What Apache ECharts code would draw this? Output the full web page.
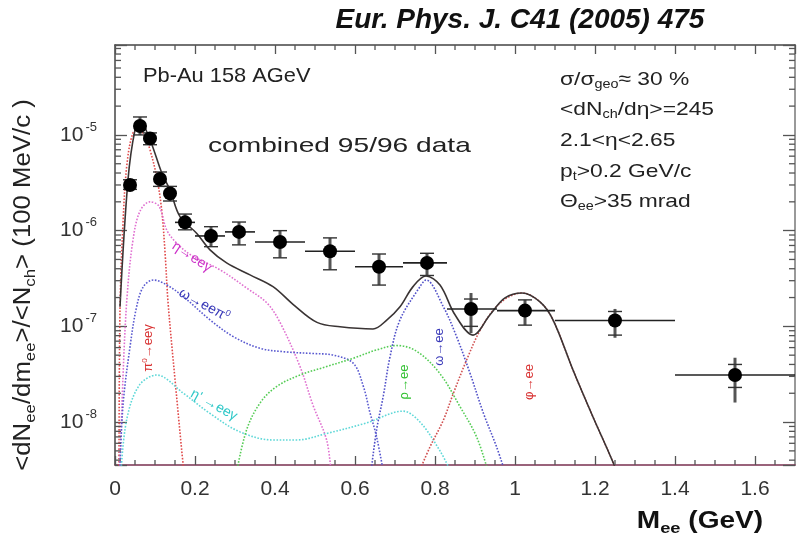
<!DOCTYPE html>
<html>
<head>
<meta charset="utf-8">
<script src="https://cdn.jsdelivr.net/npm/echarts@6/dist/echarts.min.js"></script>
<style>
html,body{margin:0;padding:0;background:#fff;}
#chart{width:807px;height:538px;}
</style>
</head>
<body>
<div id="chart"></div>
<script>
// ---------- data ----------
const xTickLabels = ['0','0.2','0.4','0.6','0.8','1','1.2','1.4','1.6'];
const yTickLabels = ['10^-8','10^-7','10^-6','10^-5'];

// measured points: mass (GeV), yield
const mass    = [0.0375,0.0625,0.0875,0.1125,0.1375,0.175,0.24,0.31,0.4125,0.5375,0.66,0.78,0.89,1.025,1.25,1.55];
const yieldV  = [3.0e-6,1.24e-5,9.2e-6,3.46e-6,2.45e-6,1.22e-6,8.8e-7,9.7e-7,7.6e-7,6.1e-7,4.2e-7,4.6e-7,1.52e-7,1.46e-7,1.15e-7,3.1e-8];
const binLo   = [0.025,0.05,0.075,0.1,0.125,0.15,0.2,0.275,0.35,0.475,0.6,0.72,0.83,0.955,1.1,1.4];
const binHi   = [0.05,0.075,0.1,0.125,0.15,0.2,0.275,0.35,0.475,0.6,0.72,0.83,0.955,1.1,1.4,1.7];
const statLo  = [2.7e-6,1.0e-5,7.9e-6,2.9e-6,2.04e-6,1.02e-6,6.8e-7,7.1e-7,5.2e-7,3.9e-7,2.7e-7,3.4e-7,8.5e-8,1.03e-7,7.6e-8,1.6e-8];
const statHi  = [3.4e-6,1.54e-5,1.05e-5,4.1e-6,2.9e-6,1.49e-6,1.10e-6,1.23e-6,1.0e-6,8.4e-7,5.7e-7,5.8e-7,2.23e-7,1.89e-7,1.52e-7,4.7e-8];
const sysLo   = [2.7e-6,1.0e-5,7.9e-6,2.9e-6,2.04e-6,1.02e-6,6.8e-7,7.1e-7,5.2e-7,3.9e-7,2.7e-7,3.4e-7,1.0e-7,1.03e-7,8.1e-8,2.3e-8];
const sysHi   = [3.4e-6,1.54e-5,1.05e-5,4.1e-6,2.9e-6,1.49e-6,1.10e-6,1.23e-6,1.0e-6,8.4e-7,5.7e-7,5.8e-7,1.93e-7,1.89e-7,1.43e-7,4.0e-8];

// cocktail curves [mass, yield]
const totalCurve = [[0.0125,1.6e-7],[0.0325,3.4e-6],[0.05,1.13e-5],[0.0625,1.4e-5],[0.0875,8.9e-6],[0.117,4.0e-6],[0.1375,2.66e-6],[0.1625,1.4e-6],[0.204,9.4e-7],[0.2375,6.3e-7],[0.279,4.6e-7],[0.3375,3.45e-7],[0.395,2.6e-7],[0.445,1.7e-7],[0.505,1.1e-7],[0.5625,9.9e-8],[0.645,9.4e-8],[0.68,1.17e-7],[0.7125,1.6e-7],[0.745,2.6e-7],[0.7775,3.36e-7],[0.8125,2.7e-7],[0.85,1.32e-7],[0.895,8.1e-8],[0.9375,1.32e-7],[0.975,1.98e-7],[1.0175,2.23e-7],[1.0625,1.8e-7],[1.095,1.17e-7],[1.145,3.5e-8],[1.195,1.13e-8],[1.245,3.8e-9],[1.26,2.5e-9]];
const pi0Curve = [[0.01,3e-9],[0.0125,1.5e-7],[0.02,1.2e-6],[0.03,5e-6],[0.045,1.05e-5],[0.06,1.15e-5],[0.075,9.5e-6],[0.0875,7e-6],[0.105,3.5e-6],[0.117,1.6e-6],[0.125,6e-7],[0.133,1.7e-7],[0.15,2.8e-8],[0.17,3.7e-9],[0.175,2.5e-9]];
const etaCurve = [[0.012,3e-9],[0.02,3e-8],[0.03,2e-7],[0.045,8e-7],[0.0625,1.6e-6],[0.0875,2.0e-6],[0.11,1.8e-6],[0.13,1.0e-6],[0.16,7e-7],[0.195,5.4e-7],[0.2625,3.9e-7],[0.33,2.5e-7],[0.38,1.75e-7],[0.4125,1.1e-7],[0.4625,3.8e-8],[0.495,1.5e-8],[0.529,6.5e-9],[0.54,3e-9]];
const omegaDalitzCurve = [[0.012,3e-9],[0.02,1.5e-8],[0.0375,6.1e-8],[0.054,1.6e-7],[0.071,2.6e-7],[0.096,3.05e-7],[0.13,2.7e-7],[0.171,2.04e-7],[0.2375,1.17e-7],[0.296,7.8e-8],[0.3625,5.9e-8],[0.429,5.4e-8],[0.496,5.2e-8],[0.546,5.0e-8],[0.596,4.1e-8],[0.621,2.35e-8],[0.6375,1.25e-8],[0.654,7e-9],[0.671,3e-9]];
const etaPrimeCurve = [[0.015,3e-9],[0.029,1.05e-8],[0.06,2.4e-8],[0.104,3.1e-8],[0.171,2.0e-8],[0.2375,1.23e-8],[0.3125,7.9e-9],[0.396,6.5e-9],[0.454,6.5e-9],[0.529,7.6e-9],[0.629,9.8e-9],[0.72,1.3e-8],[0.7625,1.0e-8],[0.8125,5e-9],[0.84,3e-9]];
const rhoCurve = [[0.304,3e-9],[0.329,8.3e-9],[0.3625,1.58e-8],[0.404,2.35e-8],[0.4625,3.1e-8],[0.529,3.8e-8],[0.596,4.65e-8],[0.654,5.67e-8],[0.704,6.3e-8],[0.754,5.5e-8],[0.8125,3.2e-8],[0.8625,1.45e-8],[0.904,7e-9],[0.933,3e-9]];
const omegaCurve = [[0.64,3e-9],[0.654,8.3e-9],[0.671,1.9e-8],[0.6875,4.8e-8],[0.7125,1.17e-7],[0.7625,2.6e-7],[0.7775,3.05e-7],[0.821,1.6e-7],[0.854,7.8e-8],[0.8875,3.24e-8],[0.921,1.24e-8],[0.954,5.5e-9],[0.975,3e-9]];
const phiCurve = [[0.76,3e-9],[0.7875,5.5e-9],[0.821,1.05e-8],[0.846,2.0e-8],[0.879,4.45e-8],[0.9125,9.1e-8],[0.946,1.48e-7],[0.979,1.97e-7],[1.0175,2.23e-7],[1.0625,1.8e-7],[1.095,1.17e-7],[1.145,3.5e-8],[1.195,1.13e-8],[1.245,3.8e-9],[1.26,2.5e-9]];

// minor tick positions
const xMinorTicks = [0.05,0.1,0.15,0.25,0.3,0.35,0.45,0.5,0.55,0.65,0.7,0.75,0.85,0.9,0.95,1.05,1.1,1.15,1.25,1.3,1.35,1.45,1.5,1.55,1.65];
const yMinorTicks = [4e-9,5e-9,6e-9,7e-9,8e-9,9e-9,2e-8,3e-8,4e-8,5e-8,6e-8,7e-8,8e-8,9e-8,2e-7,3e-7,4e-7,5e-7,6e-7,7e-7,8e-7,9e-7,2e-6,3e-6,4e-6,5e-6,6e-6,7e-6,8e-6,9e-6,2e-5,3e-5,4e-5,5e-5,6e-5,7e-5,8e-5];

const X_MIN = 0, X_MAX = 1.7, Y_MIN = 3.56e-9, Y_MAX = 8.7e-5;
const FONT = '"Liberation Sans", Arial, Helvetica, sans-serif';

// ---------- chart ----------
const chart = echarts.init(document.getElementById('chart'), null, {renderer: 'canvas'});

function curve(name, data, color, type, width) {
  return {
    name: name, type: 'line', data: data, smooth: 0.35, showSymbol: false, symbol: 'none',
    clip: true, silent: true, z: type === 'solid' ? 4 : 3,
    lineStyle: {color: color, width: width, type: type}
  };
}

const pointData = mass.map((m, i) => [m, yieldV[i], binLo[i], binHi[i], statLo[i], statHi[i], sysLo[i], sysHi[i]]);

function yLabel(v) {
  const e = Math.round(Math.log10(v));
  if (Math.abs(v / Math.pow(10, e) - 1) > 1e-6) return '';
  const lbl = '10^' + e;
  if (yTickLabels.indexOf(lbl) < 0) return '';
  return '{b|10}{e|' + e + '}';
}
function xLabel(v) {
  const s = String(Math.round(v * 10) / 10);
  return xTickLabels.indexOf(s) >= 0 ? s : '';
}

const axisLineStyle = {color: '#444', width: 1.5};

const option = {
  animation: false,
  backgroundColor: '#fff',
  grid: {left: 115, right: 12, top: 45, bottom: 73, containLabel: false},
  xAxis: [{
    type: 'value', min: X_MIN, max: X_MAX, interval: 0.2,
    axisLine: {show: true, onZero: false, lineStyle: {color: '#7a3050', width: 1.5}},
    axisTick: {show: true, inside: true, length: 9, lineStyle: {color: '#555', width: 1.3}},
    axisLabel: {show: true, margin: 14, fontSize: 21, color: '#333', fontFamily: FONT, formatter: xLabel, showMaxLabel: false},
    splitLine: {show: false}
  }, {
    type: 'value', min: X_MIN, max: X_MAX, interval: 0.2, position: 'top',
    axisLine: {show: true, onZero: false, lineStyle: axisLineStyle},
    axisTick: {show: true, inside: true, length: 9, lineStyle: {color: '#555', width: 1.3}},
    axisLabel: {show: false}, splitLine: {show: false}
  }],
  yAxis: [{
    type: 'log', logBase: 10, min: Y_MIN, max: Y_MAX,
    axisLine: {show: true, onZero: false, lineStyle: axisLineStyle},
    axisTick: {show: true, inside: true, length: 12, lineStyle: {color: '#555', width: 1.3}},
    axisLabel: {show: true, margin: 18, color: '#333', fontFamily: FONT, formatter: yLabel,
      rich: {b: {fontSize: 21, fontFamily: FONT, color: '#333'},
             e: {fontSize: 13, fontFamily: FONT, color: '#333', padding: [0, 0, 16, 2]}}},
    splitLine: {show: false}, minorTick: {show: false}
  }, {
    type: 'log', logBase: 10, min: Y_MIN, max: Y_MAX, position: 'right',
    axisLine: {show: true, onZero: false, lineStyle: {color: '#999', width: 2}},
    axisTick: {show: true, inside: true, length: 12, lineStyle: {color: '#555', width: 1.3}},
    axisLabel: {show: false}, splitLine: {show: false}
  }],
  series: [
    curve('π0→eeγ', pi0Curve, '#e04a4a', 'dotted', 1.6),
    curve('η→eeγ', etaCurve, '#e070d0', 'dotted', 1.6),
    curve('ω→eeπ0', omegaDalitzCurve, '#5a5ad0', 'dotted', 1.6),
    curve("η'→eeγ", etaPrimeCurve, '#5fd8d8', 'dotted', 1.6),
    curve('ρ→ee', rhoCurve, '#55cc55', 'dotted', 1.6),
    curve('ω→ee', omegaCurve, '#5050c8', 'dotted', 1.6),
    curve('φ→ee', phiCurve, '#d05050', 'dotted', 1.6),
    curve('total', totalCurve, '#3a3434', 'solid', 1.6),
    {
      name: 'minor ticks x', type: 'custom', silent: true, z: 5, clip: false,
      data: xMinorTicks.map(v => [v, Y_MIN]),
      encode: {x: 0, y: 1},
      renderItem: function (params, api) {
        const x = api.value(0);
        const b = api.coord([x, Y_MIN]);
        const t = api.coord([x, Y_MAX]);
        const st = {stroke: '#555', lineWidth: 1.3};
        return {type: 'group', children: [
          {type: 'line', shape: {x1: b[0], y1: b[1], x2: b[0], y2: b[1] - 5}, style: st},
          {type: 'line', shape: {x1: t[0], y1: t[1], x2: t[0], y2: t[1] + 5}, style: st}
        ]};
      }
    },
    {
      name: 'minor ticks y', type: 'custom', silent: true, z: 5, clip: false,
      data: yMinorTicks.map(v => [X_MIN, v]),
      encode: {x: 0, y: 1},
      renderItem: function (params, api) {
        const v = api.value(1);
        const l = api.coord([X_MIN, v]);
        const r = api.coord([X_MAX, v]);
        const st = {stroke: '#555', lineWidth: 1.3};
        return {type: 'group', children: [
          {type: 'line', shape: {x1: l[0], y1: l[1], x2: l[0] + 6, y2: l[1]}, style: st},
          {type: 'line', shape: {x1: r[0], y1: r[1], x2: r[0] - 6, y2: r[1]}, style: st}
        ]};
      }
    },
    {
      name: 'data', type: 'custom', z: 10, clip: false,
      data: pointData,
      encode: {x: 0, y: 1},
      renderItem: function (params, api) {
        const x = api.value(0), y = api.value(1);
        const c = api.coord([x, y]);
        const xl = api.coord([api.value(2), y])[0];
        const xh = api.coord([api.value(3), y])[0];
        const yl = api.coord([x, api.value(4)])[1];
        const yh = api.coord([x, api.value(5)])[1];
        const sl = api.coord([x, api.value(6)])[1];
        const sh = api.coord([x, api.value(7)])[1];
        return {type: 'group', children: [
          {type: 'line', shape: {x1: xl, y1: c[1], x2: xh, y2: c[1]}, style: {stroke: '#222', lineWidth: 1.6}},
          {type: 'line', shape: {x1: c[0], y1: yl, x2: c[0], y2: yh}, style: {stroke: '#555', lineWidth: 3}},
          {type: 'line', shape: {x1: c[0] - 7, y1: sl, x2: c[0] + 7, y2: sl}, style: {stroke: '#333', lineWidth: 1.4}},
          {type: 'line', shape: {x1: c[0] - 7, y1: sh, x2: c[0] + 7, y2: sh}, style: {stroke: '#333', lineWidth: 1.4}},
          {type: 'circle', shape: {cx: c[0], cy: c[1], r: 7}, style: {fill: '#000'}}
        ]};
      }
    }
  ],
  graphic: []
};

function txt(x, y, text, opts) {
  opts = opts || {};
  return {
    type: 'text', x: x, y: y, rotation: opts.rot || 0, scaleX: opts.sx || 1, silent: true, z: 20,
    style: {
      text: text, fill: opts.color || '#222',
      font: (opts.style || '') + ' ' + (opts.weight || 'normal') + ' ' + (opts.size || 18) + 'px ' + FONT,
      textAlign: opts.align || 'left', verticalAlign: opts.valign || 'middle',
      rich: opts.rich || undefined
    }
  };
}
function richSet(size, color, weight) {
  return {
    n: {fontSize: size, fontFamily: FONT, fill: color, fontWeight: weight || 'normal'},
    s: {fontSize: Math.round(size * 0.65), fontFamily: FONT, fill: color, fontWeight: weight || 'normal', padding: [Math.round(size * 0.55), 0, 0, 0]},
    u: {fontSize: Math.round(size * 0.65), fontFamily: FONT, fill: color, fontWeight: weight || 'normal', padding: [0, 0, Math.round(size * 0.55), 0]}
  };
}

const richR = richSet(19, '#222');
const g = [];
g.push(txt(520, 20, 'Eur. Phys. J. C41 (2005) 475', {size: 28, weight: 'bold', style: 'italic', align: 'center', color: '#111'}));
g.push(txt(143, 76, 'Pb-Au 158 AGeV', {size: 21, color: '#222', sx: 1.04}));
g.push(txt(208, 146, 'combined 95/96 data', {size: 21, color: '#222', sx: 1.34}));
const rx = 560, rsx = 1.2;
g.push(txt(rx, 80, '{n|σ/σ}{s|geo}{n|≈ 30 %}', {rich: richR, sx: rsx}));
g.push(txt(rx, 110, '{n|<dN}{s|ch}{n|/dη>=245}', {rich: richR, sx: rsx}));
g.push(txt(rx, 141, '{n|2.1<η<2.65}', {rich: richR, sx: rsx}));
g.push(txt(rx, 172, '{n|p}{s|t}{n|>0.2 GeV/c}', {rich: richR, sx: rsx}));
g.push(txt(rx, 202, '{n|Θ}{s|ee}{n|>35 mrad}', {rich: richR, sx: rsx}));
// axis titles
g.push(txt(700, 522, '{n|M}{s|ee}{n| (GeV)}', {rich: richSet(23, '#111', 'bold'), align: 'center', sx: 1.22}));
g.push(txt(24, 285, '{n|<dN}{s|ee}{n|/dm}{s|ee}{n|>/<N}{s|ch}{n|> (100 MeV/c )}', {rich: richSet(23, '#222'), align: 'center', rot: Math.PI / 2, sx: 1.12}));
// curve labels
g.push(txt(148, 348, '{n|π}{u|0}{n|→eeγ}', {rich: richSet(13, '#d83030'), align: 'center', rot: Math.PI / 2}));
g.push(txt(192, 257, '{n|η→eeγ}', {rich: richSet(14, '#cc30c8'), align: 'center', rot: -0.58}));
g.push(txt(204, 305, '{n|ω→eeπ}{u|0}', {rich: richSet(14, '#3838b8'), align: 'center', rot: -0.5}));
g.push(txt(214, 405, "{n|η' →eeγ}", {rich: richSet(14, '#30c8c8'), align: 'center', rot: -0.5}));
g.push(txt(404, 382, '{n|ρ→ee}', {rich: richSet(13, '#30c030'), align: 'center', rot: Math.PI / 2}));
g.push(txt(439, 347, '{n|ω→ee}', {rich: richSet(13, '#3838b8'), align: 'center', rot: Math.PI / 2}));
g.push(txt(529, 382, '{n|φ→ee}', {rich: richSet(13, '#d83030'), align: 'center', rot: Math.PI / 2}));
option.graphic = g;

chart.setOption(option);
</script>
</body>
</html>
